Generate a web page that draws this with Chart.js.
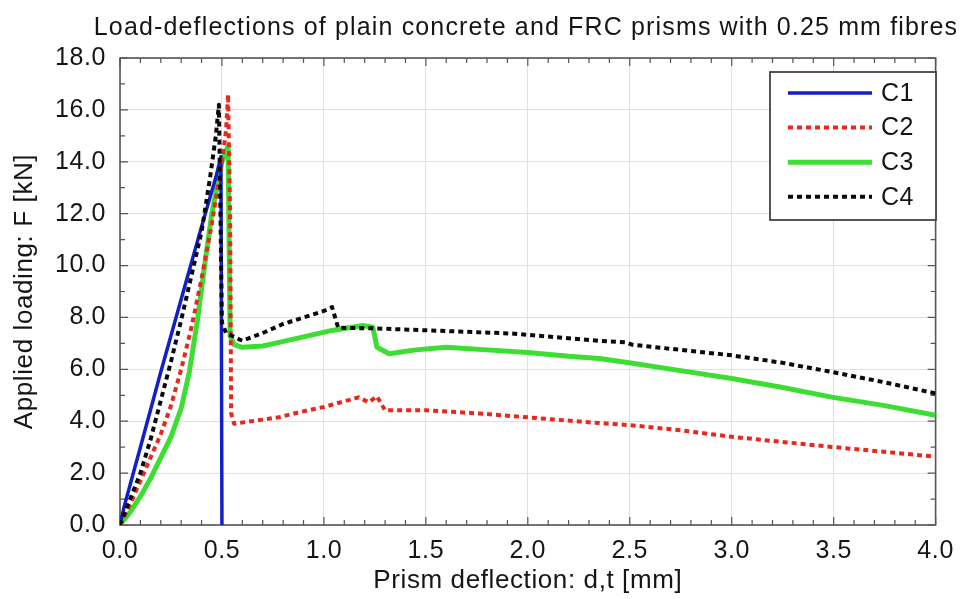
<!DOCTYPE html>
<html>
<head>
<meta charset="utf-8">
<title>Load-deflections of plain concrete and FRC prisms</title>
<script src="https://cdn.jsdelivr.net/npm/chart.js@4.4.0/dist/chart.umd.min.js"></script>
<style>
  html, body { margin: 0; padding: 0; background: #fff; }
  #wrap { width: 964px; height: 599px; }
</style>
</head>
<body>
<div id="wrap"><canvas id="prisms" width="964" height="599"></canvas></div>
<script>
var titleText = "Load-deflections of plain concrete and FRC prisms with 0.25 mm fibres";
var seriesNames = ["C1", "C2", "C3", "C4"];

// deflection [mm] / load [kN]
var c1X = [0, 0.02, 0.1, 0.2, 0.3, 0.4, 0.47, 0.495, 0.5];
var c1Y = [0, 0.7, 3.0, 5.9, 8.7, 11.5, 13.4, 14.2, 0];

var c2X = [0, 0.05, 0.1, 0.15, 0.2, 0.25, 0.3, 0.35, 0.4, 0.45, 0.5, 0.52, 0.53, 0.54, 0.545, 0.56, 0.6, 0.78, 0.88, 1.0, 1.17, 1.22, 1.26, 1.3, 1.5, 1.76, 2.0, 2.31, 2.5, 2.75, 3.0, 3.25, 3.49, 3.75, 4.0];
var c2Y = [0, 0.8, 1.7, 2.6, 3.5, 4.6, 6.0, 7.6, 9.5, 11.6, 14.0, 15.2, 16.6, 12.0, 4.3, 3.9, 3.95, 4.15, 4.35, 4.55, 4.92, 4.73, 4.96, 4.42, 4.42, 4.3, 4.15, 3.95, 3.85, 3.65, 3.4, 3.2, 3.01, 2.82, 2.63];

var c3X = [0, 0.05, 0.1, 0.15, 0.2, 0.25, 0.3, 0.34, 0.38, 0.415, 0.45, 0.5, 0.53, 0.54, 0.56, 0.6, 0.7, 0.78, 0.9, 1.04, 1.19, 1.24, 1.26, 1.32, 1.45, 1.6, 1.8, 2.0, 2.2, 2.35, 2.48, 2.75, 3.0, 3.25, 3.49, 3.75, 4.0];
var c3Y = [0, 0.5, 1.1, 1.8, 2.6, 3.4, 4.5, 5.9, 7.9, 10.0, 12.0, 14.0, 14.6, 7.3, 6.95, 6.85, 6.9, 7.04, 7.25, 7.5, 7.69, 7.62, 6.85, 6.6, 6.75, 6.85, 6.75, 6.65, 6.5, 6.42, 6.27, 5.95, 5.65, 5.3, 4.93, 4.6, 4.23];

var c4X = [0, 0.05, 0.1, 0.15, 0.2, 0.25, 0.3, 0.35, 0.4, 0.44, 0.47, 0.485, 0.5, 0.52, 0.6, 0.7, 0.8, 0.9, 1.0, 1.04, 1.07, 1.24, 1.52, 1.92, 2.35, 2.48, 2.51, 2.75, 3.0, 3.25, 3.49, 3.75, 4.0];
var c4Y = [0, 1.0, 2.0, 3.3, 4.8, 6.3, 7.9, 9.6, 11.3, 13.3, 15.0, 16.2, 7.8, 7.4, 7.1, 7.4, 7.75, 8.0, 8.25, 8.4, 7.6, 7.58, 7.5, 7.38, 7.1, 7.04, 6.95, 6.75, 6.54, 6.25, 5.9, 5.5, 5.07];

var xTickStep = 0.5;
var yTickStep = 2;

function pairs(xs, ys) {
  var out = [];
  for (var i = 0; i < xs.length; i++) out.push({x: xs[i], y: ys[i]});
  return out;
}

var fontFamily = '"Liberation Sans", Arial, Helvetica, sans-serif';
Chart.defaults.font.family = fontFamily;
Chart.defaults.color = '#151515';

// frame with inward ticks, title and boxed legend
var figurePlugin = {
  id: 'figure',
  beforeDraw: function(chart) {
    chart.ctx.letterSpacing = '0.6px';
  },
  beforeDatasetsDraw: function(chart) {
    var ctx = chart.ctx, a = chart.chartArea;
    var xs = chart.scales.x, ys = chart.scales.y;
    ctx.save();
    ctx.strokeStyle = '#555';
    ctx.lineWidth = 1.2;
    ctx.beginPath();
    for (var i = 0; i <= 40; i++) {
      var px = xs.getPixelForValue(i / 10);
      var len = i % 5 === 0 ? 8 : 5;
      ctx.moveTo(px, a.bottom); ctx.lineTo(px, a.bottom - len);
      ctx.moveTo(px, a.top); ctx.lineTo(px, a.top + len);
    }
    for (var j = 0; j <= 18; j++) {
      var py = ys.getPixelForValue(j);
      var l2 = j % 2 === 0 ? 8 : 5;
      ctx.moveTo(a.left, py); ctx.lineTo(a.left + l2, py);
      ctx.moveTo(a.right, py); ctx.lineTo(a.right - l2, py);
    }
    ctx.stroke();
    ctx.lineWidth = 1.6;
    ctx.strokeRect(a.left, a.top, a.right - a.left, a.bottom - a.top);
    ctx.restore();
  },
  afterDraw: function(chart) {
    var ctx = chart.ctx;
    ctx.save();
    // title
    ctx.letterSpacing = '1.15px';
    ctx.font = '25px ' + fontFamily;
    ctx.fillStyle = '#151515';
    ctx.textAlign = 'center';
    ctx.textBaseline = 'alphabetic';
    ctx.fillText(titleText, 526, 35);

    // legend
    var bx = 770, by = 72, bw = 166, bh = 148;
    ctx.fillStyle = '#fff';
    ctx.fillRect(bx, by, bw, bh);
    ctx.strokeStyle = '#444';
    ctx.lineWidth = 1.8;
    ctx.strokeRect(bx, by, bw, bh);
    ctx.letterSpacing = '0.5px';
    ctx.font = '25px ' + fontFamily;
    ctx.textAlign = 'left';
    ctx.textBaseline = 'middle';
    chart.data.datasets.forEach(function(ds, k) {
      var y = 93 + k * 34.6;
      ctx.beginPath();
      ctx.strokeStyle = ds.borderColor;
      ctx.lineWidth = ds.borderWidth;
      ctx.setLineDash(ds.borderDash || []);
      ctx.moveTo(788, y);
      ctx.lineTo(872, y);
      ctx.stroke();
      ctx.setLineDash([]);
      ctx.fillStyle = '#151515';
      ctx.fillText(ds.label, 881, y + 1);
    });
    ctx.restore();
  }
};

var ctx = document.getElementById('prisms').getContext('2d');
var myChart = new Chart(ctx, {
  type: 'line',
  data: {
    datasets: [{
      label: seriesNames[0],
      data: pairs(c1X, c1Y),
      borderColor: 'rgb(18,30,200)',
      borderWidth: 3.5,
      order: 3
    }, {
      label: seriesNames[1],
      data: pairs(c2X, c2Y),
      borderColor: 'rgb(232,40,30)',
      borderWidth: 4,
      borderDash: [5, 4],
      order: 2
    }, {
      label: seriesNames[2],
      data: pairs(c3X, c3Y),
      borderColor: 'rgb(60,222,50)',
      borderWidth: 5,
      order: 4
    }, {
      label: seriesNames[3],
      data: pairs(c4X, c4Y),
      borderColor: 'rgb(10,10,10)',
      borderWidth: 4,
      borderDash: [5, 4],
      order: 1
    }]
  },
  options: {
    responsive: false,
    animation: false,
    devicePixelRatio: 1,
    layout: { padding: { left: 0, right: 26, top: 58, bottom: 0 } },
    elements: {
      point: { radius: 0, hoverRadius: 0 },
      line: { tension: 0, fill: false, borderJoinStyle: 'round' }
    },
    plugins: {
      legend: { display: false },
      title: { display: false },
      tooltip: { enabled: false }
    },
    scales: {
      x: {
        type: 'linear',
        min: 0,
        max: 4,
        ticks: {
          stepSize: xTickStep,
          maxRotation: 0,
          padding: 11,
          font: { size: 25 },
          callback: function(v) { return v.toFixed(1); }
        },
        grid: { color: '#e0e0e0', lineWidth: 1, drawTicks: false },
        border: { display: false },
        title: {
          display: true,
          text: 'Prism deflection: d,t [mm]',
          font: { size: 26 },
          padding: { top: 0, bottom: 3 }
        },
        afterFit: function(scale) { scale.height = 74; }
      },
      y: {
        type: 'linear',
        min: 0,
        max: 18,
        ticks: {
          stepSize: yTickStep,
          padding: 14,
          font: { size: 25 },
          callback: function(v) { return v.toFixed(1); }
        },
        grid: { color: '#e0e0e0', lineWidth: 1, drawTicks: false },
        border: { display: false },
        title: {
          display: true,
          text: 'Applied loading: F [kN]',
          font: { size: 26 },
          padding: { top: 9, bottom: 0 }
        },
        afterFit: function(scale) { scale.width = 120; }
      }
    }
  },
  plugins: [figurePlugin]
});
</script>
</body>
</html>
